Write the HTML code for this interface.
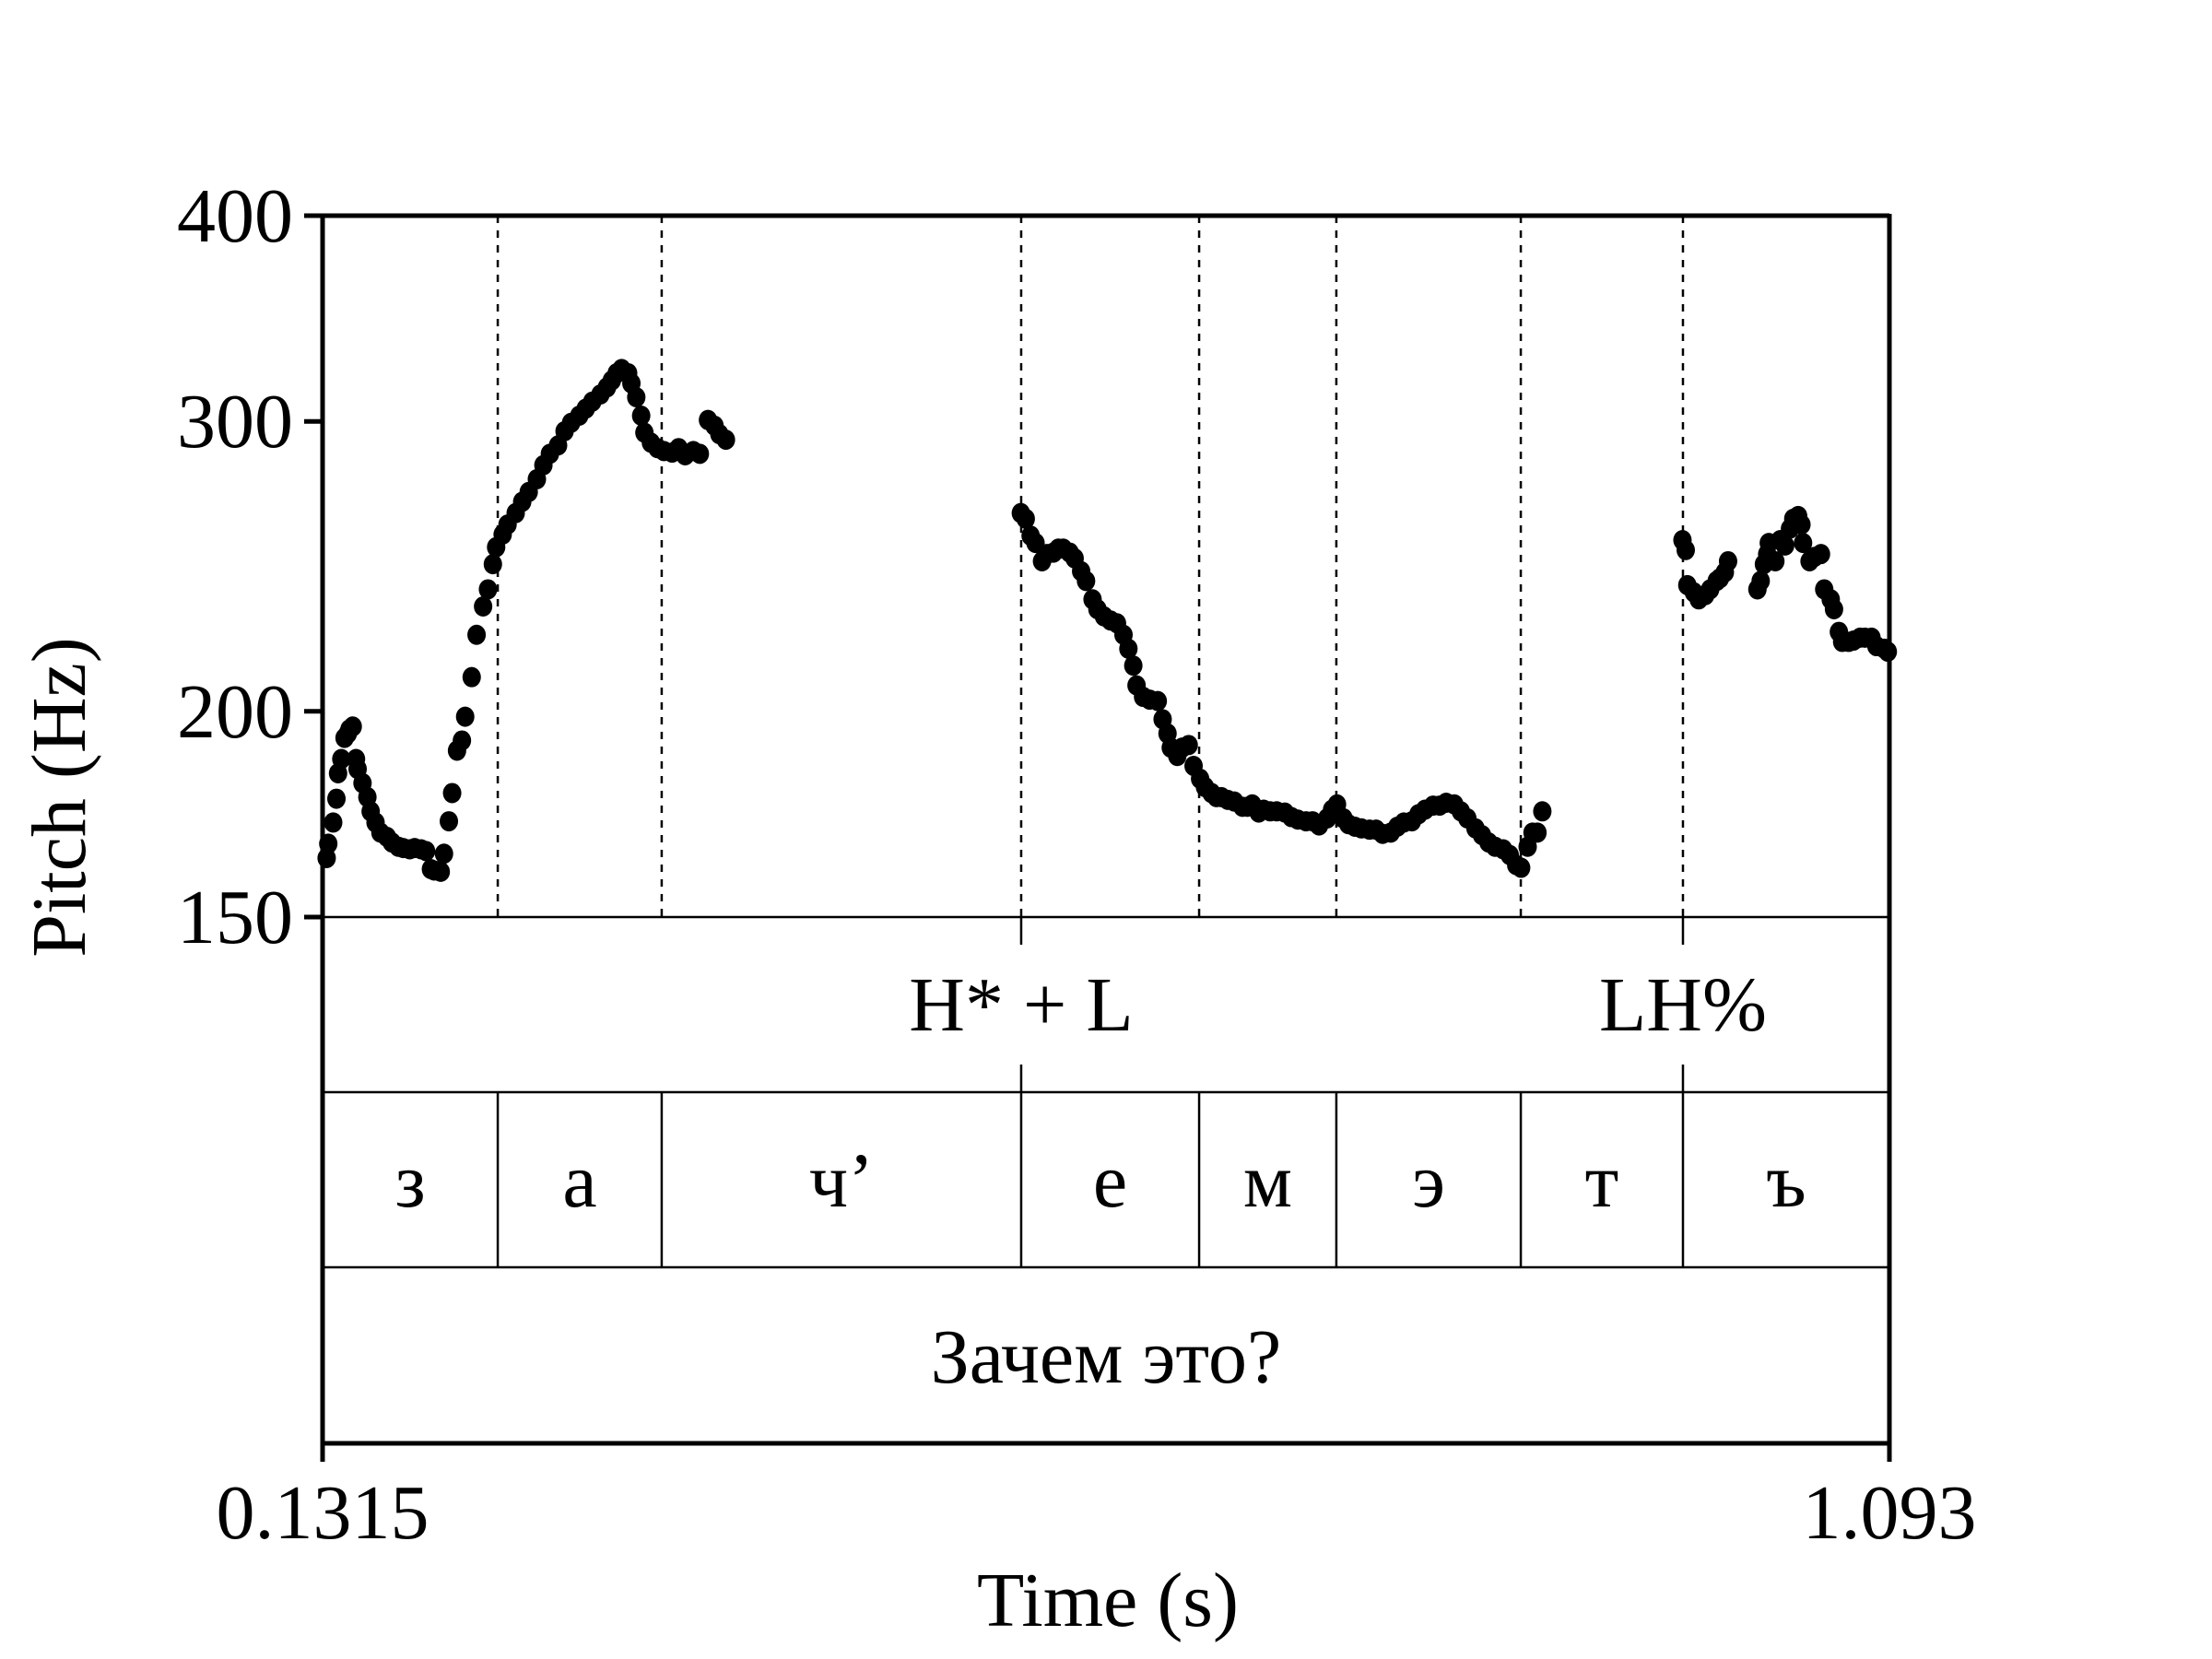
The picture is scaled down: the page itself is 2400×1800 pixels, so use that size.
<!DOCTYPE html>
<html><head><meta charset="utf-8">
<style>
html,body{margin:0;padding:0;background:#fff;}
svg{display:block;font-family:"Liberation Serif","DejaVu Serif",serif;}
</style></head>
<body>
<svg id="chart" width="2400" height="1800" viewBox="0 0 2400 1800" xmlns="http://www.w3.org/2000/svg">
<rect x="0" y="0" width="2400" height="1800" fill="#fff"/>
<g id="grid"></g>
<g id="tiers"></g>
<g id="points"></g>
<g id="axes"></g>
</svg>
<script>
// ---- data ----
const yTicks = [150, 200, 300, 400];
const yTickLabels = ["150", "200", "300", "400"];
const xRange = [0.1315, 1.093];
const xTickLabels = ["0.1315", "1.093"];
const boundaries = [0.2390, 0.3396, 0.5602, 0.6694, 0.7536, 0.8668, 0.9663];
const phoneTimes = [0.1315, 0.2390, 0.3396, 0.5602, 0.6694, 0.7536, 0.8668, 0.9663, 1.093];
const phoneLabels = ["з", "а", "ч’", "е", "м", "э", "т", "ъ"];
const toneTimes = [0.5602, 0.9663];
const toneLabels = ["H* + L", "LH%"];
const wordLabel = "Зачем это?";

const seg1Times = [.134,.135,.138,.140,.141,.143,.145,.147,.148,.150,.152,.153,.156,.159,.161,.164,.167,.171,.174,.178,.181,.185,.188,.192,.195,.198,.200,.204,.206,.209,.211,.214,.217,.219,.223,.226,.230,.233,.236,.238,.242,.245,.250,.254,.258,.263,.267,.271,.276,.280,.284,.289,.293,.297,.302,.306,.309,.312,.315,.319,.321,.324,.327,.329,.333,.337,.341,.346,.350,.354,.359,.363,.368,.372,.375,.379];
const seg1Hz = [162.9,166.2,171.2,177.0,183.4,187.1,192.7,193.9,195.0,195.8,187.1,184.5,180.9,177.4,173.9,171.2,168.8,167.8,166.5,165.5,165.2,164.9,165.2,164.9,164.5,160.4,160.1,159.8,163.9,171.5,178.4,189.3,192.0,198.5,209.8,222.6,231.6,237.2,245.7,251.6,256.1,259.7,263.9,268.1,271.8,276.7,282.2,286.7,290.1,295.9,299.4,302.4,305.4,308.4,311.5,314.6,317.7,320.9,322.8,320.9,316.4,310.3,302.4,295.3,291.2,289.0,287.8,287.2,289.0,286.1,287.8,286.7,300.6,298.2,294.7,292.4];

const seg2Times = [.560,.563,.566,.569,.573,.576,.580,.583,.586,.590,.593,.597,.600,.604,.607,.611,.615,.619,.623,.626,.629,.631,.635,.639,.644,.647,.650,.652,.656,.659,.663,.666,.670,.673,.677,.680,.683,.687,.691,.696,.699,.702,.706,.709,.713,.717,.722,.726,.730,.735,.739,.743,.748,.751,.754,.758,.761,.765,.769,.774,.778,.782,.787,.791,.795,.800,.804,.808,.813,.817,.821,.826,.830,.834,.839,.843,.847,.851,.856,.860,.864,.867,.871,.874,.877,.880];
const seg2Hz = [263.9,261.8,255.7,253.1,246.7,249.2,249.7,251.1,251.1,249.7,247.7,243.3,240.0,233.9,230.7,228.4,227.1,226.2,222.6,218.3,213.2,207.4,204.1,203.3,202.9,197.8,193.9,190.1,187.9,190.1,190.8,185.3,182.0,179.9,178.4,177.4,177.4,176.7,176.3,175.0,175.0,175.6,173.6,174.3,173.9,173.9,173.6,172.5,171.9,171.5,171.5,170.5,172.2,174.3,175.6,172.2,170.8,170.2,169.8,169.5,169.5,168.5,168.8,170.2,171.2,171.5,173.2,174.3,175.3,175.3,176.0,175.6,173.9,172.2,169.8,168.2,166.5,165.5,164.9,163.6,161.3,160.7,165.5,168.8,168.8,173.9];

const seg3Times = [.966,.968,.969,.973,.976,.980,.983,.987,.989,.992,.994,1.012,1.014,1.016,1.018,1.019,1.023,1.026,1.029,1.032,1.034,1.037,1.039,1.040,1.044,1.047,1.051,1.053,1.057,1.059,1.062,1.064,1.068,1.071,1.075,1.078,1.082,1.085,1.090,1.092];
const seg3Hz = [254.1,250.6,238.6,236.2,233.9,235.3,237.2,240.0,240.9,242.9,246.7,237.2,240.0,245.7,249.2,253.1,246.7,254.1,252.2,258.2,261.8,262.8,259.7,253.1,246.7,248.2,249.2,237.2,233.9,230.7,223.5,220.4,220.4,220.8,221.7,221.7,221.7,219.1,218.3,217.4];

// ---- layout ----
const X0 = 350, X1 = 2050;
const YTOP = 234, YBOT = 995;
const T1 = 1185, T2 = 1375, T3 = 1566;
const NS = "http://www.w3.org/2000/svg";
function xScale(t){ return X0 + (t - xRange[0]) / (xRange[1] - xRange[0]) * (X1 - X0); }
function yScale(f){ return YBOT - Math.log(f / yTicks[0]) / Math.log(yTicks[3] / yTicks[0]) * (YBOT - YTOP); }
function mk(tag, attrs, parent){
  const e = document.createElementNS(NS, tag);
  for (const k in attrs) e.setAttribute(k, attrs[k]);
  parent.appendChild(e);
  return e;
}
const grid = document.getElementById('grid');
const tiers = document.getElementById('tiers');
const pts = document.getElementById('points');
const axes = document.getElementById('axes');

boundaries.forEach((b) => {
  const l = mk('line', {x1: xScale(b), x2: xScale(b), y1: YTOP, y2: YBOT, stroke: '#000', 'stroke-width': 2.5, 'stroke-dasharray': '8 8'}, grid);
  
  
});

[YBOT, T1, T2].forEach((y) => {
  const l = mk('line', {x1: X0, x2: X1, y1: y, y2: y, stroke: '#000', 'stroke-width': 2.5}, tiers);
  
  
});

toneTimes.forEach((t, i) => {
  const x = xScale(t);
  const a = mk('line', {x1: x, x2: x, y1: YBOT, y2: YBOT + 30, stroke: '#000', 'stroke-width': 2.5}, tiers);
  
  
  const b = mk('line', {x1: x, x2: x, y1: T1 - 30, y2: T1, stroke: '#000', 'stroke-width': 2.5}, tiers);
  
  
  const tx = mk('text', {x: x, y: 1118, 'font-size': 84, 'text-anchor': 'middle'}, tiers);
  tx.textContent = toneLabels[i];
  
  
});

for (let i = 1; i < phoneTimes.length - 1; i++) {
  const x = xScale(phoneTimes[i]);
  const l = mk('line', {x1: x, x2: x, y1: T1, y2: T2, stroke: '#000', 'stroke-width': 2.5}, tiers);
  
  
}
phoneLabels.forEach((p, i) => {
  const x = (xScale(phoneTimes[i]) + xScale(phoneTimes[i + 1])) / 2;
  const tx = mk('text', {x: x, y: 1309, 'font-size': 84, 'text-anchor': 'middle'}, tiers);
  tx.textContent = p;
  
  
});

const wt = mk('text', {x: (X0 + X1) / 2, y: 1500, 'font-size': 84, 'text-anchor': 'middle'}, tiers);
wt.textContent = wordLabel;



function drawSeg(times, hz){
  times.forEach((t, i) => {
    const c = mk('ellipse', {cx: xScale(t), cy: yScale(hz[i]), rx: 10, ry: 11, fill: '#000'}, pts);
    
    
  });
}
drawSeg(seg1Times, seg1Hz);
drawSeg(seg2Times, seg2Hz);
drawSeg(seg3Times, seg3Hz);

const fr = [
  [X0, YTOP, X1, YTOP, 'top-border'],
  [X0, YTOP - 2, X0, T3 + 2, 'y-axis-line'],
  [X1, YTOP - 2, X1, T3 + 2, 'right-border'],
  [X0 - 2, T3, X1 + 2, T3, 'x-axis-line']
];
fr.forEach((f) => {
  const l = mk('line', {x1: f[0], y1: f[1], x2: f[2], y2: f[3], stroke: '#000', 'stroke-width': 5}, axes);
  
  
});

yTicks.forEach((v, i) => {
  const y = yScale(v);
  const l = mk('line', {x1: X0 - 20, x2: X0, y1: y, y2: y, stroke: '#000', 'stroke-width': 5}, axes);
  
  
  const t = mk('text', {x: 318, y: y + 28, 'font-size': 84, 'text-anchor': 'end'}, axes);
  t.textContent = yTickLabels[i];
  
  
});

xRange.forEach((v, i) => {
  const x = xScale(v);
  const l = mk('line', {x1: x, x2: x, y1: T3, y2: T3 + 20, stroke: '#000', 'stroke-width': 5}, axes);
  
  
  const t = mk('text', {x: x, y: 1669, 'font-size': 84, 'text-anchor': 'middle'}, axes);
  t.textContent = xTickLabels[i];
  
  
});

const xt = mk('text', {x: 1202, y: 1764, 'font-size': 84, 'text-anchor': 'middle'}, axes);
xt.textContent = 'Time (s)';



const yt = mk('text', {x: 0, y: 0, 'font-size': 84, 'text-anchor': 'middle', transform: 'translate(92,865) rotate(-90)'}, axes);
yt.textContent = 'Pitch (Hz)';


</script>
</body></html>
